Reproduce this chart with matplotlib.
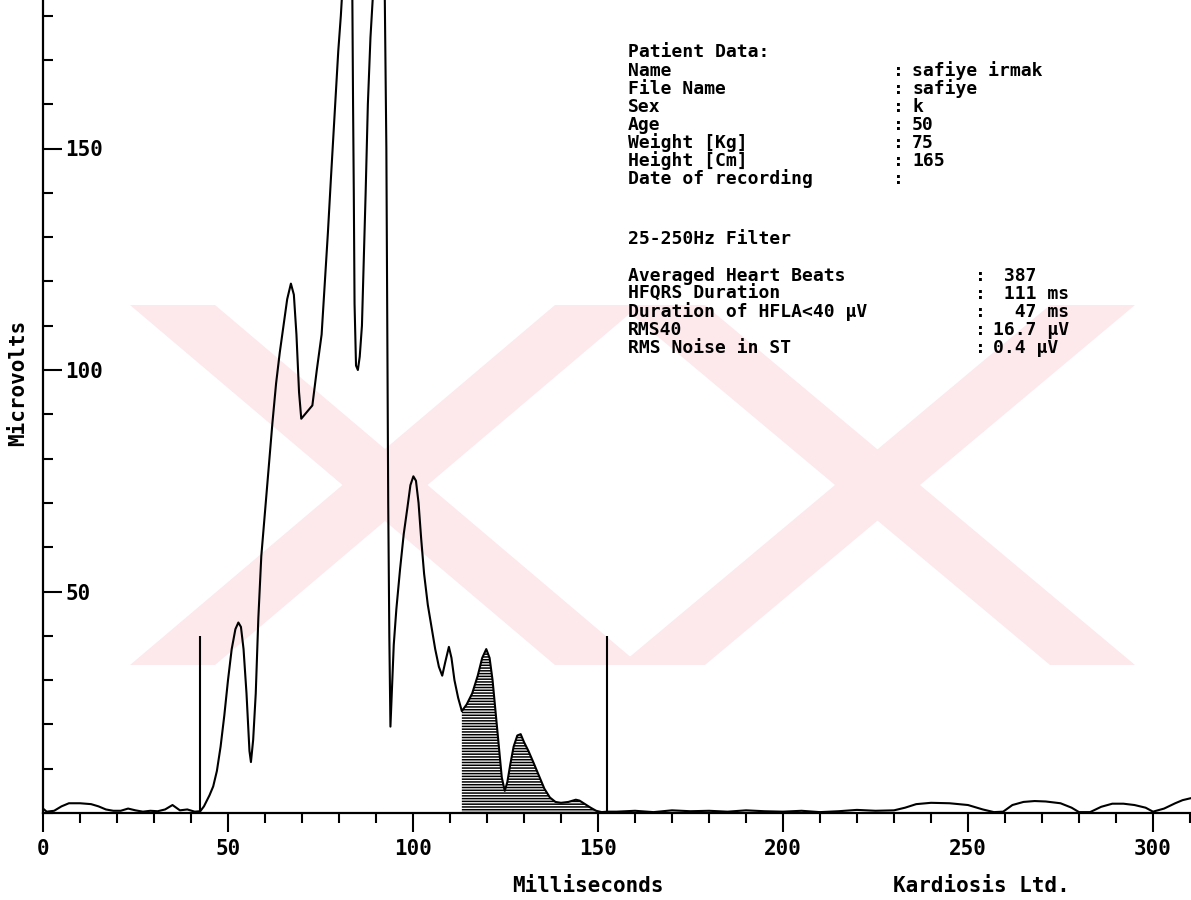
import matplotlib
matplotlib.use("Agg")
import matplotlib.pyplot as plt
import numpy as np
from matplotlib.patches import Polygon
from matplotlib.ticker import MultipleLocator

# ---------------- data ----------------
time_ms = [0, 1, 3, 5, 7, 10, 13, 15, 17, 19, 21, 23, 25, 27, 29, 31, 33, 35, 37, 39, 41, 42.5,
           43.5, 45, 46, 47, 48, 49, 50, 51, 52, 52.8, 53.5, 54.2, 55, 55.8, 56.2, 56.8, 57.5,
           58.2, 59, 60, 61, 62, 63, 64, 65, 66, 67, 67.8, 68.5, 69.2, 69.8, 70.8, 71.8, 72.8,
           74, 75.3, 76.2, 77, 77.8, 78.5, 79.2, 79.8, 80.5, 81.2, 82, 83, 83.6, 83.8, 84, 84.2,
           84.6, 85.1, 85.6, 86.2, 86.7, 87.2, 87.8, 88.5, 89.2, 90, 91.5, 92.3, 92.8, 93.1, 93.3,
           93.6, 93.9, 94.3, 94.8, 95.5, 96.5, 97.5, 98.5, 99.3, 100.1, 100.8, 101.5, 102.2, 103,
           104, 105, 106, 107, 107.9, 108.7, 109.7, 110.4, 111.2, 112.2, 113.2, 114.5, 116, 117.5,
           118.7, 119.8, 120.7, 121.5, 122.3, 123.2, 124, 124.8, 125.5, 126.3, 127.2, 128.2, 129.1,
           130, 131.2, 132.5, 134, 135.5, 137, 138.5, 140, 142, 144, 145, 146.5, 148, 149.5, 151,
           152.5, 155, 160, 165, 170, 175, 180, 185, 190, 195, 200, 205, 210, 215, 220, 225, 230,
           233, 236, 240, 245, 250, 254, 257, 259.5, 262, 265, 268, 271, 275, 278, 280, 283, 286,
           289, 292, 295, 298, 300, 303, 306, 308, 310.5]
microvolts = [1.0, 0.3, 0.5, 1.5, 2.2, 2.2, 2.0, 1.5, 0.8, 0.5, 0.5, 1.0, 0.6, 0.3, 0.5, 0.4, 0.8,
              1.8, 0.6, 0.8, 0.3, 0.4,
              1.5, 4, 6, 9.5, 15, 22, 30, 37, 41.5, 43, 42, 37, 27, 14, 11.5, 16.5, 27,
              44, 58, 68, 78, 88, 97, 104, 110, 116, 119.5, 117, 108, 95, 89, 90, 91, 92,
              100, 108, 120, 131, 143, 153, 163, 172, 180, 190, 200, 200, 185, 160, 140, 115,
              101, 100, 103, 110, 125, 140, 160, 175, 185, 200, 200, 190, 150, 100, 70,
              40, 19.5, 28, 38, 46, 55, 63, 69, 74, 76, 75, 70, 62, 54,
              47, 42, 37, 33, 31, 34, 37.5, 35, 30, 26, 23, 24.5, 27, 31,
              35, 37, 35, 30, 23, 15, 8, 5, 7, 11, 15, 17.5, 17.8,
              16, 14, 11.5, 8.5, 5.5, 3.5, 2.5, 2.3, 2.5, 3, 2.8, 2, 1.2, 0.5, 0.2,
              0.3, 0.3, 0.5, 0.2, 0.6, 0.4, 0.5, 0.3, 0.6, 0.4, 0.3, 0.5, 0.2, 0.4, 0.7, 0.5, 0.6,
              1.2, 2.0, 2.3, 2.2, 1.8, 0.8, 0.2, 0.3, 1.8, 2.5, 2.7, 2.6, 2.2, 1.2, 0.2, 0.2, 1.4,
              2.1, 2.1, 1.8, 1.2, 0.3, 1.0, 2.2, 2.9, 3.4]

qrs_onset_ms = 42.5
qrs_offset_ms = 152.5
marker_height = 40
hatch_start_ms = 113.2

x_ticks = [0, 50, 100, 150, 200, 250, 300]
y_ticks = [50, 100, 150]

patient_title = "Patient Data:"
patient_labels = ["Name", "File Name", "Sex", "Age", "Weight [Kg]", "Height [Cm]",
                  "Date of recording"]
patient_values = ["safiye irmak", "safiye", "k", "50", "75", "165", ""]
filter_text = "25-250Hz Filter"
result_labels = ["Averaged Heart Beats", "HFQRS Duration", "Duration of HFLA<40 \u00b5V",
                 "RMS40", "RMS Noise in ST"]
result_values = [" 387", " 111 ms", "  47 ms", "16.7 \u00b5V", "0.4 \u00b5V"]

# ---------------- figure ----------------
W, H = 1191, 900
DPI = 100
fig = plt.figure(figsize=(W / DPI, H / DPI), dpi=DPI)
FONT = dict(family="DejaVu Sans Mono", weight="bold", size=15)
INFO = dict(family="DejaVu Sans Mono", weight="bold", size=13)

def fx(px):
    return px / W

def fy(py):
    return 1 - py / H

x0_px, base_px = 43, 813
ax = fig.add_axes([fx(x0_px), fy(base_px), (W - x0_px) / W, base_px / H])
ax.set_facecolor("none")

# watermark (faint pink logo)
pink = "#fde8ec"
bands = [
    [(130, 305), (215, 305), (640, 665), (555, 665)],
    [(555, 305), (640, 305), (215, 665), (130, 665)],
    [(620, 305), (705, 305), (1135, 665), (1050, 665)],
    [(1050, 305), (1135, 305), (705, 665), (620, 665)],
]
for b in bands:
    pts = [(fx(p[0]), fy(p[1])) for p in b]
    ax.add_patch(Polygon(pts, closed=True, facecolor=pink, edgecolor="none",
                         transform=fig.transFigure, zorder=0, clip_on=False))

t = np.array(time_ms)
v = np.array(microvolts)

plt.rcParams["hatch.linewidth"] = 1.1
ax.fill_between(t, 0, v, where=(t >= hatch_start_ms) & (t <= qrs_offset_ms),
                facecolor="white", edgecolor="black", linewidth=0, hatch="------", zorder=1)
ax.plot(t, v, color="black", lw=1.5, zorder=3)
ax.vlines([qrs_onset_ms, qrs_offset_ms], 0, marker_height, color="black", lw=1.5, zorder=3)

ax.set_xlim(0, (W - x0_px) / 3.7)
ax.set_ylim(0, base_px / 4.43)

for s in ["top", "right"]:
    ax.spines[s].set_visible(False)
for s in ["left", "bottom"]:
    ax.spines[s].set_linewidth(1.6)

ax.set_xticks(x_ticks)
ax.set_xticklabels([str(x) for x in x_ticks], fontdict=FONT)
ax.xaxis.set_minor_locator(MultipleLocator(10))
ax.tick_params(axis="x", which="major", direction="out", length=14, width=1.5, pad=5)
ax.tick_params(axis="x", which="minor", direction="out", length=7, width=1.5)

ax.set_yticks(y_ticks)
ax.set_yticklabels([str(y) for y in y_ticks], fontdict=FONT, ha="left")
ax.yaxis.set_minor_locator(MultipleLocator(10))
ax.tick_params(axis="y", which="major", direction="in", length=14, width=1.5, pad=-16)
ax.tick_params(axis="y", which="minor", direction="in", length=7, width=1.5)

fig.text(fx(18), fy(383), "Microvolts", rotation=90, ha="center", va="center", **FONT)
fig.text(fx(588), fy(886), "Milliseconds", ha="center", va="center", **FONT)
fig.text(fx(981), fy(886), "Kardiosis Ltd.", ha="center", va="center", **FONT)

# info text
lx = 628
fig.text(fx(lx), fy(52), patient_title, ha="left", va="center", **INFO)
for i, (lab, val) in enumerate(zip(patient_labels, patient_values)):
    y = 71 + i * 18
    fig.text(fx(lx), fy(y), lab, ha="left", va="center", **INFO)
    fig.text(fx(893), fy(y), ":", ha="left", va="center", **INFO)
    if val:
        fig.text(fx(912), fy(y), val, ha="left", va="center", **INFO)

fig.text(fx(lx), fy(239), filter_text, ha="left", va="center", **INFO)
for i, (lab, val) in enumerate(zip(result_labels, result_values)):
    y = 276 + i * 18
    fig.text(fx(lx), fy(y), lab, ha="left", va="center", **INFO)
    fig.text(fx(975), fy(y), ":", ha="left", va="center", **INFO)
    fig.text(fx(993), fy(y), val, ha="left", va="center", **INFO)

fig.savefig("out.png", dpi=DPI, facecolor="white")
